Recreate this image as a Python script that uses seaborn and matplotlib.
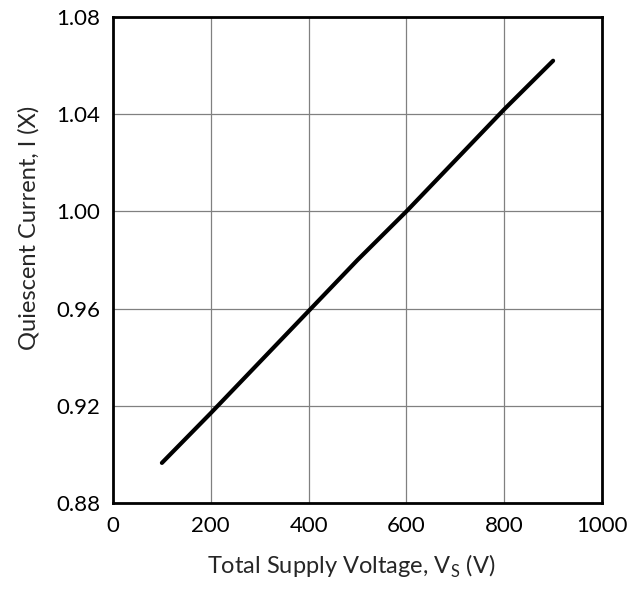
import matplotlib
matplotlib.use("Agg")
import matplotlib.pyplot as plt
import seaborn as sns
import pandas as pd

# Valores
voltage = [100, 200, 300, 400, 500, 600, 700, 800, 900]
current = [0.8965, 0.917, 0.938, 0.959, 0.980, 1.000, 1.021, 1.042, 1.062]
x_ticks = [0, 200, 400, 600, 800, 1000]
y_ticks = [0.88, 0.92, 0.96, 1.00, 1.04, 1.08]

df = pd.DataFrame({"Voltage": voltage, "Current": current})

sns.set_style("white")
plt.rcParams["font.family"] = ["Lato", "DejaVu Sans"]

fig = plt.figure(figsize=(6.42, 5.92), dpi=100)
ax = fig.add_axes([113 / 642, 89 / 592, 489 / 642, 486 / 592])

sns.lineplot(data=df, x="Voltage", y="Current", color="black", linewidth=3,
             solid_capstyle="round", ax=ax)

ax.set_xlim(0, 1000)
ax.set_ylim(0.88, 1.08)
ax.set_xticks(x_ticks)
ax.set_yticks(y_ticks)
ax.set_xticklabels([str(t) for t in x_ticks])
ax.set_yticklabels([f"{t:.2f}" for t in y_ticks])
ax.grid(True, color="#808080", linewidth=0.9)
ax.tick_params(axis="both", length=0, pad=9, labelsize=16, colors="black")

for s in ax.spines.values():
    s.set_color("black")
    s.set_linewidth(2)

ax.set_xlabel(r"Total Supply Voltage, V$_\mathregular{S}$ (V)", fontsize=17)
ax.set_ylabel("Quiescent Current, I (X)", fontsize=17)
ax.xaxis.set_label_coords(0.487, -0.102)
ax.yaxis.set_label_coords(-0.15, 0.566)

fig.savefig("out.png", dpi=100)
